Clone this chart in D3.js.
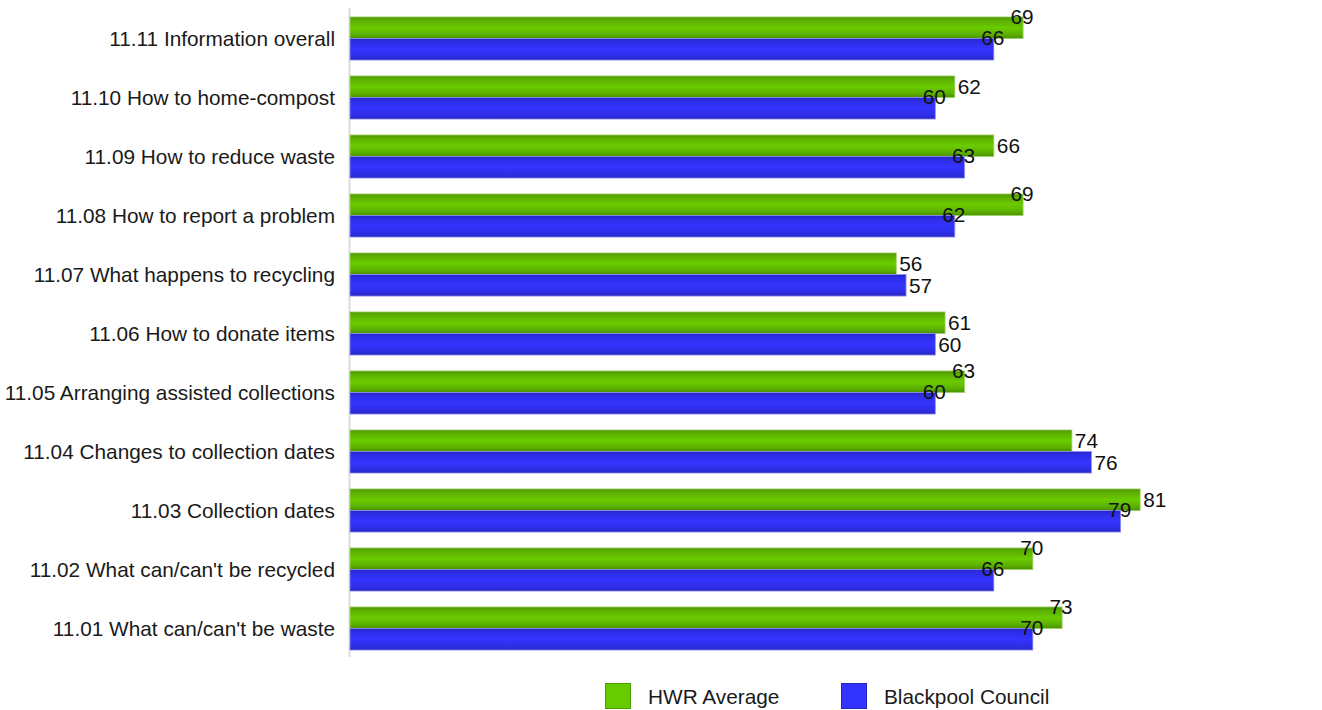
<!DOCTYPE html>
<html>
<head>
<meta charset="utf-8">
<script src="https://cdn.jsdelivr.net/npm/d3@7"></script>
<style>
  html, body { margin: 0; padding: 0; background: #fff; }
  svg { display: block; font-family: "Liberation Sans", Arial, sans-serif; }
</style>
</head>
<body>
<svg id="chart" width="1322" height="710"></svg>
<script>
// Survey items, top to bottom
const categories = [
  "11.11 Information overall",
  "11.10 How to home-compost",
  "11.09 How to reduce waste",
  "11.08 How to report a problem",
  "11.07 What happens to recycling",
  "11.06 How to donate items",
  "11.05 Arranging assisted collections",
  "11.04 Changes to collection dates",
  "11.03 Collection dates",
  "11.02 What can/can't be recycled",
  "11.01 What can/can't be waste"
];
const seriesNames = ["HWR Average", "Blackpool Council"];
const hwrAverage = [69, 62, 66, 69, 56, 61, 63, 74, 81, 70, 73];
const blackpool  = [66, 60, 63, 62, 57, 60, 60, 76, 79, 66, 70];

// items whose HWR label sits on the bar end instead of beside it
const hwrLabelsOnEnd = ["11.11", "11.08", "11.05", "11.02", "11.01"];

const svg = d3.select("#chart");
const fontSize = 20.8;

const x = d3.scaleLinear().domain([0, 100]).range([350, 1325.5]);
const y = d3.scaleBand().domain(categories).range([9, 658]).padding(0);
const groupFrac = 0.73;
const barH = y.bandwidth() * groupFrac / 2;
const groupTop = c => y(c) + (y.bandwidth() - 2 * barH) / 2;

// bar shading
const defs = svg.append("defs");
function shade(id, stops) {
  const g = defs.append("linearGradient").attr("id", id)
    .attr("x1", 0).attr("y1", 0).attr("x2", 0).attr("y2", 1);
  stops.forEach(([o, c]) => g.append("stop").attr("offset", o).attr("stop-color", c));
}
shade("gradGreen", [[0, "#4e9500"], [0.15, "#5aae00"], [0.5, "#6bcb00"], [0.8, "#5cb200"], [1, "#4c9000"]]);
shade("gradBlue",  [[0, "#2626c4"], [0.15, "#2d2de6"], [0.5, "#3434ff"], [0.8, "#2e2ee8"], [1, "#2727c2"]]);

const palette = [
  { fill: "url(#gradGreen)", stroke: "#9fd06a", swatch: "#66cc00", swatchStroke: "#4a9a00" },
  { fill: "url(#gradBlue)",  stroke: "#8d8df0", swatch: "#3333ff", swatchStroke: "#2424c0" }
];

const rows = categories.map((c, i) => ({ cat: c, vals: [hwrAverage[i], blackpool[i]] }));

// axis line
svg.append("line")
  .attr("x1", 349.5).attr("x2", 349.5)
  .attr("y1", 8).attr("y2", 657)
  .attr("stroke", "#dcdcdc").attr("stroke-width", 2);

// category labels
const yAxis = d3.axisLeft(y).tickSize(0).tickPadding(14);
const ax = svg.append("g").attr("transform", "translate(349,0)").call(yAxis);
ax.select(".domain").remove();
ax.selectAll(".tick").attr("transform", d => `translate(0,${groupTop(d) + barH + 1})`);
ax.selectAll("text")
  .attr("font-size", fontSize)
  .attr("font-family", "\"Liberation Sans\", Arial, sans-serif")
  .attr("fill", "#1a1a1a");

// bars
const groups = svg.append("g").selectAll("g").data(rows).join("g");
groups.selectAll("rect")
  .data(d => d.vals.map((v, k) => ({ cat: d.cat, v, k })))
  .join("rect")
  .attr("x", x(0))
  .attr("y", d => groupTop(d.cat) + d.k * barH)
  .attr("width", d => x(d.v) - x(0))
  .attr("height", barH)
  .attr("fill", d => palette[d.k].fill)
  .attr("stroke", d => palette[d.k].stroke)
  .attr("stroke-width", 0.8);

// value labels
const labels = svg.append("g");
rows.forEach(r => {
  const code = r.cat.split(" ")[0];
  const [g, b] = r.vals;
  const top = groupTop(r.cat);
  const place = [
    hwrLabelsOnEnd.includes(code) ? "end" : "beside",
    (g - b >= 2) ? "end" : "beside"
  ];
  r.vals.forEach((v, k) => {
    const barTop = top + k * barH;
    const onEnd = place[k] === "end";
    labels.append("text")
      .attr("x", onEnd ? x(v) - 1 : x(v) + 3)
      .attr("y", onEnd ? barTop - 0.5 : barTop + barH / 2)
      .attr("dy", "0.35em")
      .attr("text-anchor", onEnd ? "middle" : "start")
      .attr("font-size", fontSize)
      .attr("fill", "#111")
      .text(v);
  });
});

// legend
const legend = svg.append("g");
const legendX = [605, 841];
seriesNames.forEach((name, k) => {
  legend.append("rect")
    .attr("x", legendX[k] + 0.5).attr("y", 683.5)
    .attr("width", 25).attr("height", 25)
    .attr("fill", palette[k].swatch)
    .attr("stroke", palette[k].swatchStroke);
  legend.append("text")
    .attr("x", legendX[k] + 43).attr("y", 697)
    .attr("dy", "0.35em")
    .attr("font-size", fontSize)
    .attr("fill", "#1a1a1a")
    .text(name);
});
</script>
</body>
</html>
